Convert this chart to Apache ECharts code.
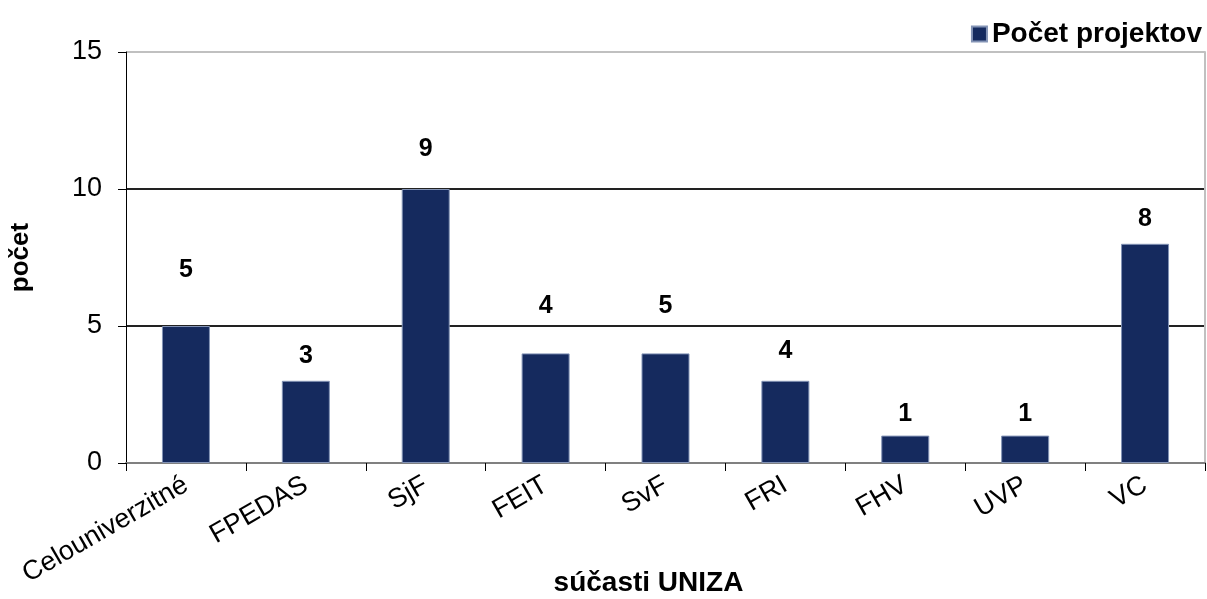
<!DOCTYPE html>
<html>
<head>
<meta charset="utf-8">
<script src="https://cdn.jsdelivr.net/npm/echarts@6/dist/echarts.min.js"></script>
<style>
  html, body { margin: 0; padding: 0; background: #fff; }
  #chart1 { width: 1207px; height: 599px; }
</style>
</head>
<body>
<div id="chart1"></div>
<script>
// data
const categories = ['Celouniverzitné', 'FPEDAS', 'SjF', 'FEIT', 'SvF', 'FRI', 'FHV', 'UVP', 'VC'];
const barValues = [5, 3, 10, 4, 4, 3, 1, 1, 8];
// the printed labels do not match the bar heights in the original
const labelTexts = ['5', '3', '9', '4', '5', '4', '1', '1', '8'];
// how far each label sits above its bar (px)
const labelGaps = [43, 12, 27, 35, 35, 17, 9, 9, 12];
const yTicks = [0, 5, 10, 15];

let chart1;
const font = '"Liberation Sans", Arial, sans-serif';

const getOptionChart1 = () => {
    return {
        animation: false,
        textStyle: { fontFamily: font },
        legend: {
            right: 0,
            top: 15,
            itemWidth: 15,
            itemHeight: 15,
            itemGap: 6,
            icon: 'rect',
            textStyle: { fontSize: 28, fontWeight: 'bold', color: '#000', fontFamily: font },
            data: ['Počet projektov']
        },
        grid: { left: 126, right: 2, top: 52, bottom: 136, outerBoundsMode: 'none' },
        xAxis: {
            type: 'category',
            data: categories,
            name: 'súčasti UNIZA',
            nameLocation: 'middle',
            nameGap: 106,
            nameMoveOverlap: false,
            nameTextStyle: { fontSize: 28, fontWeight: 'bold', color: '#000', padding: [0, 34, 0, 0] },
            axisLine: { lineStyle: { color: '#808080', width: 2 } },
            axisTick: { show: true, length: 8, lineStyle: { color: '#000' } },
            axisLabel: { rotate: 30, fontSize: 27, color: '#000', margin: 20 }
        },
        yAxis: [
            {
                type: 'value',
                min: yTicks[0],
                max: yTicks[yTicks.length - 1],
                interval: 5,
                name: 'počet',
                nameLocation: 'middle',
                nameGap: 92,
                nameMoveOverlap: false,
                nameTextStyle: { fontSize: 26, fontWeight: 'bold', color: '#000' },
                axisLine: { show: true, lineStyle: { color: '#000', width: 1 } },
                axisTick: { show: true, length: 8, lineStyle: { color: '#000' } },
                axisLabel: { fontSize: 27, color: '#000', margin: 24 },
                splitLine: {
                    show: true,
                    lineStyle: { color: ['#808080', '#222', '#222', '#c0c0c0'], width: 2 }
                }
            },
            {
                type: 'value',
                position: 'right',
                min: yTicks[0],
                max: yTicks[yTicks.length - 1],
                interval: 5,
                axisLine: { show: true, lineStyle: { color: '#c0c0c0', width: 2 } },
                axisTick: { show: false },
                axisLabel: { show: false },
                splitLine: { show: false }
            }
        ],
        series: [
            {
                name: 'Počet projektov',
                type: 'bar',
                barWidth: 48,
                itemStyle: { color: '#152a5e', borderColor: '#8393b5', borderWidth: 1 },
                data: barValues.map((v, i) => ({
                    value: v,
                    label: {
                        show: true,
                        position: 'top',
                        distance: labelGaps[i],
                        formatter: labelTexts[i],
                        fontSize: 25,
                        fontWeight: 'bold',
                        color: '#000'
                    }
                }))
            }
        ]
    };
}

const initCharts = () => {
    chart1 = echarts.init(document.getElementById('chart1'));
    chart1.setOption(getOptionChart1());
}
document.addEventListener('DOMContentLoaded', function () {
    initCharts();
});

window.addEventListener('resize', function () {
    chart1.resize();
})
</script>
</body>
</html>
